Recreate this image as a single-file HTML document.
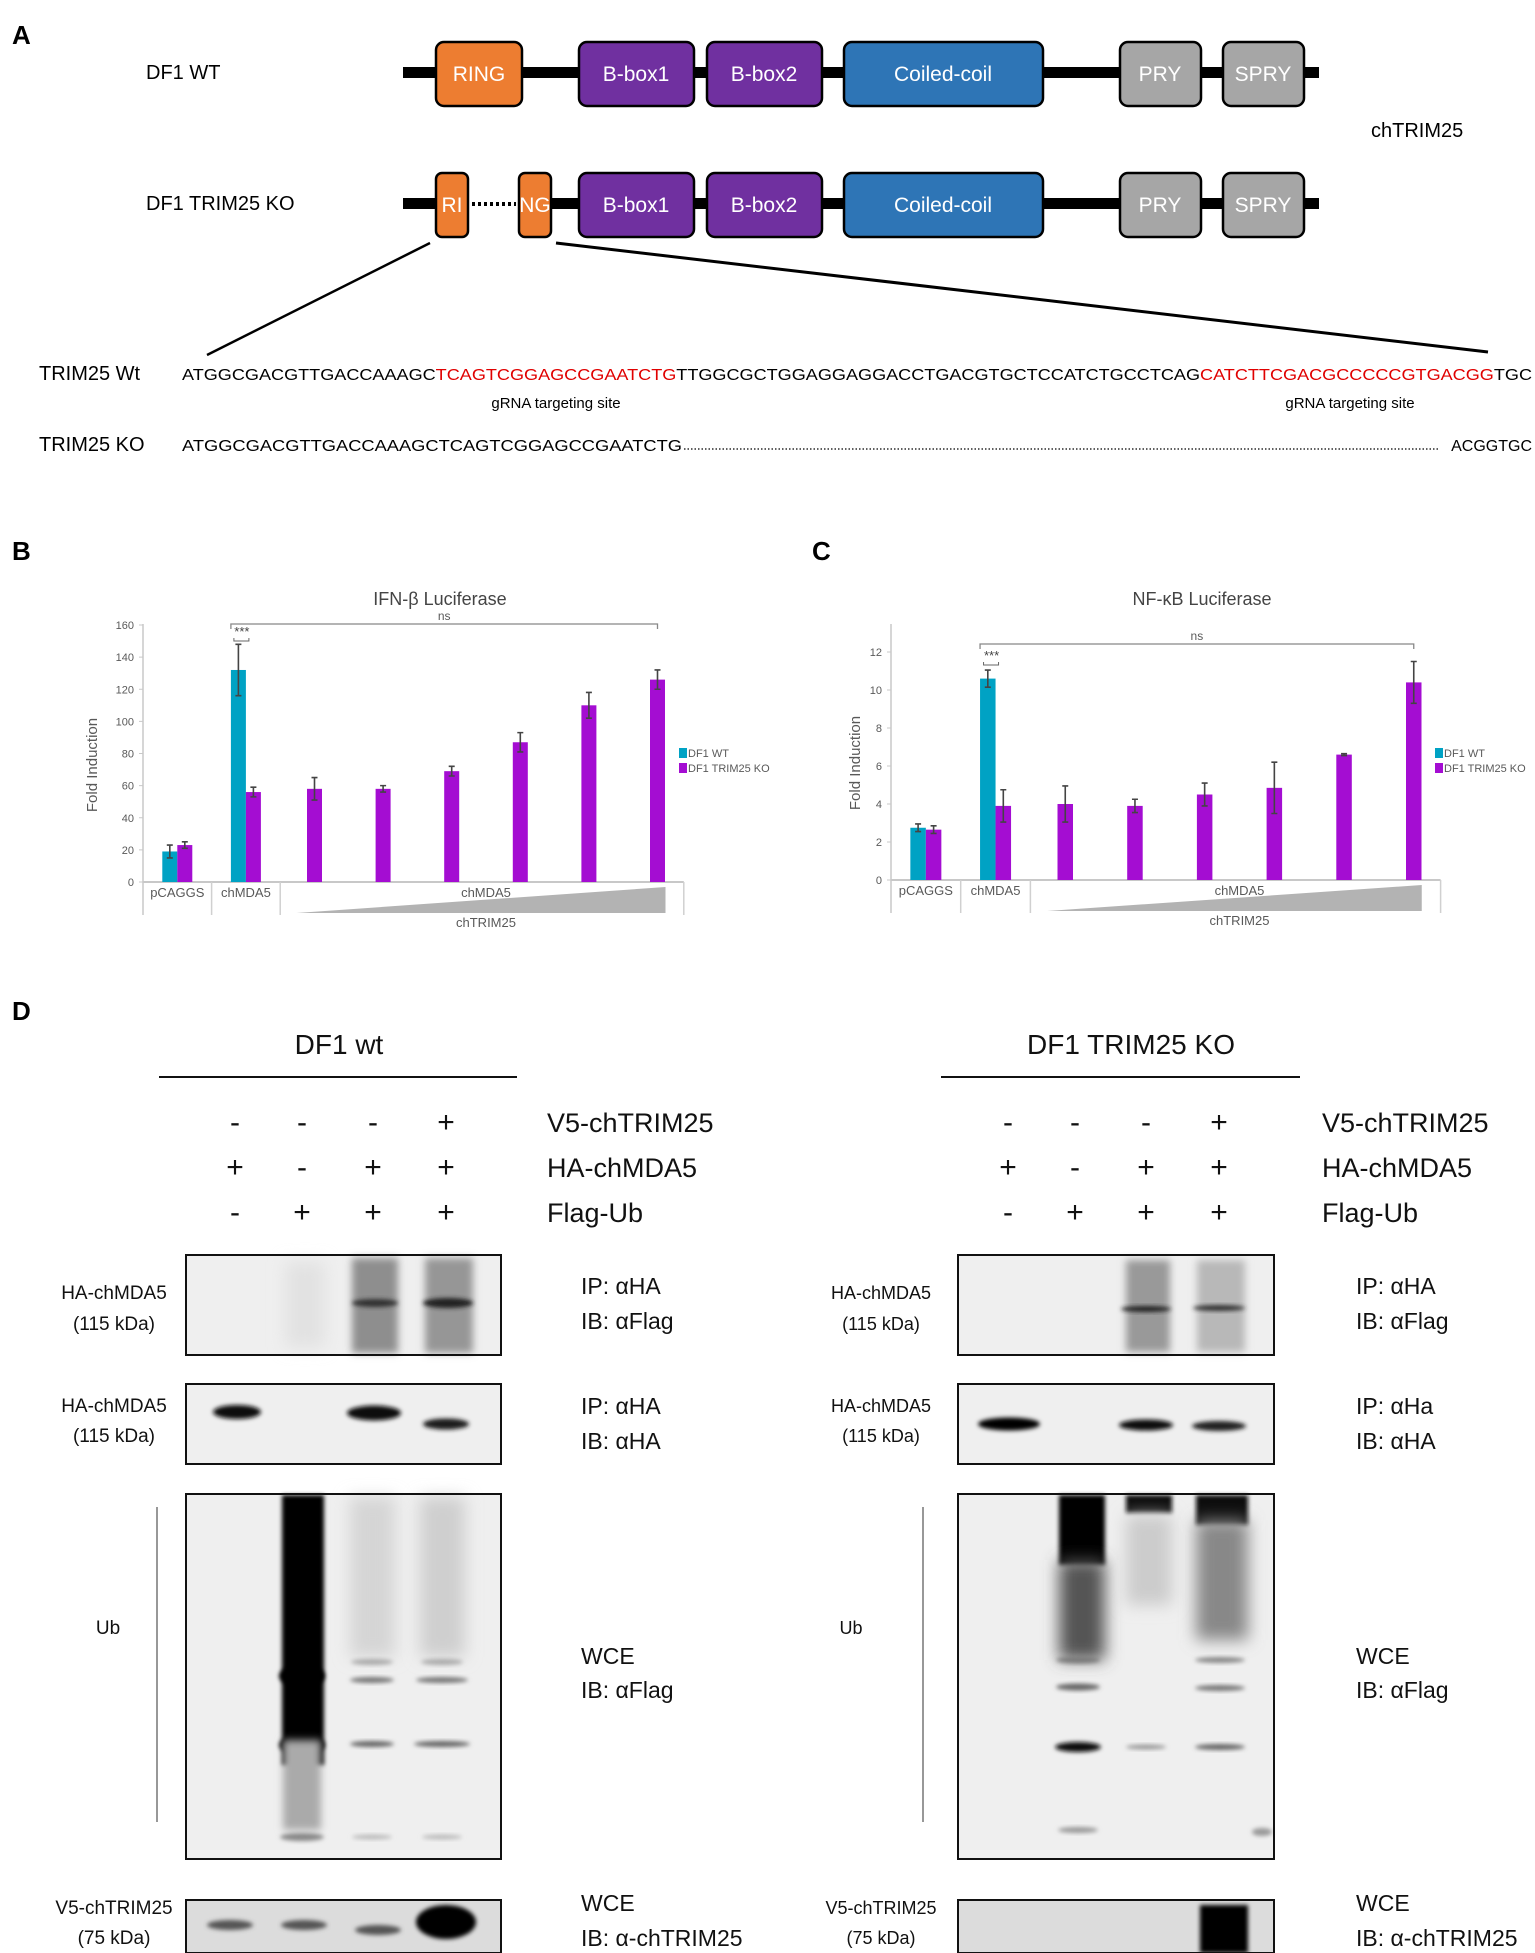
<!DOCTYPE html>
<html><head><meta charset="utf-8"><style>
html,body{margin:0;padding:0;background:#fff;}
svg{display:block;font-family:"Liberation Sans",sans-serif;}
</style></head><body>
<svg id="fig" width="1535" height="1953" viewBox="0 0 1535 1953" xmlns="http://www.w3.org/2000/svg">
<defs>
<filter id="b2" x="-50%" y="-50%" width="200%" height="200%"><feGaussianBlur stdDeviation="2"/></filter>
<filter id="b4" x="-50%" y="-50%" width="200%" height="200%"><feGaussianBlur stdDeviation="4"/></filter>
<filter id="b8" x="-50%" y="-50%" width="200%" height="200%"><feGaussianBlur stdDeviation="8"/></filter>
</defs>

<!-- PANEL A -->
<g>
<text x="12" y="44" font-size="26" font-weight="bold">A</text>
<text x="146" y="79" font-size="20">DF1 WT</text>
<rect x="403" y="67" width="916" height="11" fill="#000"/>
<g font-size="21" fill="#fff" text-anchor="middle" stroke="#000" stroke-width="2.5">
<rect x="436" y="42" width="86" height="64" rx="8" fill="#ed7d31"/>
<rect x="579" y="42" width="115" height="64" rx="8" fill="#7030a0"/>
<rect x="707" y="42" width="115" height="64" rx="8" fill="#7030a0"/>
<rect x="844" y="42" width="199" height="64" rx="8" fill="#2e75b6"/>
<rect x="1120" y="42" width="81" height="64" rx="8" fill="#a6a6a6"/>
<rect x="1223" y="42" width="81" height="64" rx="8" fill="#a6a6a6"/>
</g>
<g font-size="21" fill="#fff" text-anchor="middle">
<text x="479" y="81">RING</text>
<text x="636" y="81">B-box1</text>
<text x="764" y="81">B-box2</text>
<text x="943" y="81">Coiled-coil</text>
<text x="1160" y="81">PRY</text>
<text x="1263" y="81">SPRY</text>
</g>
<text x="1371" y="137" font-size="20">chTRIM25</text>

<text x="146" y="210" font-size="20">DF1 TRIM25 KO</text>
<rect x="403" y="198" width="33" height="11" fill="#000"/>
<rect x="551" y="198" width="768" height="11" fill="#000"/>
<line x1="472" y1="204" x2="516" y2="204" stroke="#000" stroke-width="4" stroke-dasharray="3,3"/>
<g stroke="#000" stroke-width="2.5">
<rect x="436" y="173" width="32" height="64" rx="6" fill="#ed7d31"/>
<rect x="519" y="173" width="32" height="64" rx="6" fill="#ed7d31"/>
<rect x="579" y="173" width="115" height="64" rx="8" fill="#7030a0"/>
<rect x="707" y="173" width="115" height="64" rx="8" fill="#7030a0"/>
<rect x="844" y="173" width="199" height="64" rx="8" fill="#2e75b6"/>
<rect x="1120" y="173" width="81" height="64" rx="8" fill="#a6a6a6"/>
<rect x="1223" y="173" width="81" height="64" rx="8" fill="#a6a6a6"/>
</g>
<g font-size="21" fill="#fff" text-anchor="middle">
<text x="452" y="212">RI</text><text x="535" y="212">NG</text>
<text x="636" y="212">B-box1</text><text x="764" y="212">B-box2</text>
<text x="943" y="212">Coiled-coil</text><text x="1160" y="212">PRY</text><text x="1263" y="212">SPRY</text>
</g>
<line x1="430" y1="243" x2="207" y2="355" stroke="#000" stroke-width="2.5"/>
<line x1="556" y1="243" x2="1488" y2="352" stroke="#000" stroke-width="3"/>

<text x="39" y="380" font-size="20">TRIM25 Wt</text>
<text x="182" y="380" font-size="16" textLength="1350" lengthAdjust="spacingAndGlyphs">ATGGCGACGTTGACCAAAGC<tspan fill="#e00000">TCAGTCGGAGCCGAATCTG</tspan>TTGGCGCTGGAGGAGGACCTGACGTGCTCCATCTGCCTCAG<tspan fill="#e00000">CATCTTCGACGCCCCCGTGACGG</tspan>TGC</text>
<text x="556" y="408" font-size="15" text-anchor="middle">gRNA targeting site</text>
<text x="1350" y="408" font-size="15" text-anchor="middle">gRNA targeting site</text>
<text x="39" y="451" font-size="20">TRIM25 KO</text>
<text x="182" y="451" font-size="16" textLength="500" lengthAdjust="spacingAndGlyphs">ATGGCGACGTTGACCAAAGCTCAGTCGGAGCCGAATCTG</text>
<line x1="684" y1="449" x2="1440" y2="449" stroke="#000" stroke-width="1.3" stroke-dasharray="1.5,2"/>
<text x="1532" y="451" font-size="16" text-anchor="end">ACGGTGC</text>
</g>

<!-- PANELS B & C -->
<text x="12" y="560" font-size="26" font-weight="bold">B</text>
<text x="812" y="560" font-size="26" font-weight="bold">C</text>
<g id="chartB"></g>
<g id="chartC"></g>

<!-- PANEL D -->
<g id="panelD">
<text x="12" y="1020" font-size="26" font-weight="bold">D</text>
</g>
</svg>

<script>
// ---- Chart data ----
const categoriesB = ["pCAGGS","chMDA5","t1","t2","t3","t4","t5","t6"];
const wtValuesB = [19, 132];
const wtErrorsB = [4, 16];
const koValuesB = [23, 56, 58, 58, 69, 87, 110, 126];
const koErrorsB = [2, 3, 7, 2, 3, 6, 8, 6];
const ticksB = [0, 20, 40, 60, 80, 100, 120, 140, 160];

const categoriesC = ["pCAGGS","chMDA5","t1","t2","t3","t4","t5","t6"];
const wtValuesC = [2.75, 10.6];
const wtErrorsC = [0.2, 0.45];
const koValuesC = [2.65, 3.9, 4.0, 3.9, 4.5, 4.85, 6.6, 10.4];
const koErrorsC = [0.2, 0.85, 0.95, 0.35, 0.6, 1.35, 0.05, 1.1];
const ticksC = [0, 2, 4, 6, 8, 10, 12];

const NS = "http://www.w3.org/2000/svg";
function mk(parent, tag, attrs, text){
  const e = document.createElementNS(NS, tag);
  for (const k in attrs) e.setAttribute(k, attrs[k]);
  if (text !== undefined) e.textContent = text;
  parent.appendChild(e);
  return e;
}

function drawChart(g, cfg){
  const yS = v => cfg.y0 - (v / cfg.yMax) * (cfg.y0 - cfg.yTop);
  const xC = i => cfg.left + (i + 0.5) * cfg.band;
  const bw = cfg.barW;
  const grey = "#595959";
  const t = mk(g, "text", {x: cfg.titleX, y: cfg.titleY, "font-size": 18, fill: "#444", "text-anchor": "middle"}, cfg.title);
  
  
  const ax = mk(g, "line", {x1: cfg.left, y1: cfg.axisTop, x2: cfg.left, y2: cfg.tableBottom, stroke: "#c8c8c8", "stroke-width": 1.5});
  
  
  cfg.ticks.forEach(v => {
    mk(g, "line", {x1: cfg.left - 4, y1: yS(v), x2: cfg.left, y2: yS(v), stroke: "#c8c8c8"});
    const tl = mk(g, "text", {x: cfg.left - 9, y: yS(v) + 4, "font-size": 11, fill: grey, "text-anchor": "end"}, String(v));
    
    
  });
  const yl = mk(g, "text", {x: cfg.ylabX, y: cfg.ylabY, "font-size": 15, fill: grey, "text-anchor": "middle", transform: `rotate(-90 ${cfg.ylabX} ${cfg.ylabY})`}, "Fold Induction");
  
  
  const n = cfg.cats.length;
  const right = cfg.left + n * cfg.band - 8;
  mk(g, "line", {x1: cfg.left, y1: cfg.y0, x2: right, y2: cfg.y0, stroke: "#c8c8c8", "stroke-width": 2});
  [cfg.left + cfg.band, cfg.left + 2 * cfg.band, right].forEach(x => mk(g, "line", {x1: x, y1: cfg.y0, x2: x, y2: cfg.tableBottom, stroke: "#d0d0d0", "stroke-width": 1.5}));
  const ly = cfg.y0 + 15;
  const l1 = mk(g, "text", {x: xC(0), y: ly, "font-size": 13, fill: grey, "text-anchor": "middle"}, "pCAGGS");
  
  
  const l2 = mk(g, "text", {x: xC(1), y: ly, "font-size": 13, fill: grey, "text-anchor": "middle"}, "chMDA5");
  
  
  const midX = (xC(2) + xC(n - 1)) / 2;
  const l3 = mk(g, "text", {x: midX, y: ly, "font-size": 13, fill: grey, "text-anchor": "middle"}, "chMDA5");
  
  
  const tri = mk(g, "polygon", {points: `${xC(2)-18},${cfg.y0+31} ${xC(n-1)+8},${cfg.y0+5} ${xC(n-1)+8},${cfg.y0+31}`, fill: "#b3b3b3"});
  
  
  const l4 = mk(g, "text", {x: midX, y: cfg.y0 + 45, "font-size": 13, fill: grey, "text-anchor": "middle"}, "chTRIM25");
  
  
  function err(x, v, e){
    const p = mk(g, "path", {d: `M${x},${yS(v+e)}V${yS(v-e)}M${x-3},${yS(v+e)}h6M${x-3},${yS(v-e)}h6`, stroke: "#444", "stroke-width": 1.6, fill: "none"});
    
    
  }
  cfg.ko.forEach((v, i) => {
    const hasWt = i < cfg.wt.length;
    const c = xC(i);
    if (hasWt) {
      const wv = cfg.wt[i];
      const r = mk(g, "rect", {x: c - bw, y: yS(wv), width: bw, height: cfg.y0 - yS(wv), fill: "#00a2c4"});
      
      
      err(c - bw / 2, wv, cfg.wtErr[i]);
    }
    const x = hasWt ? c : c - bw / 2;
    const r2 = mk(g, "rect", {x: x, y: yS(v), width: bw, height: cfg.y0 - yS(v), fill: "#a40dd2"});
    
    
    err(x + bw / 2, v, cfg.koErr[i]);
  });
  const bx1 = xC(1) - bw, bx2 = xC(n - 1);
  const br = mk(g, "path", {d: `M${bx1},${cfg.nsY+5}V${cfg.nsY}H${bx2}V${cfg.nsY+5}`, stroke: "#888", fill: "none", "stroke-width": 1.3});
  
  
  const ns = mk(g, "text", {x: (bx1 + bx2) / 2, y: cfg.nsY - 4, "font-size": 12, fill: grey, "text-anchor": "middle"}, "ns");
  
  
  const st = mk(g, "text", {x: xC(1) - 4, y: cfg.starY, "font-size": 13, fill: "#444", "text-anchor": "middle"}, "***");
  
  
  mk(g, "path", {d: `M${xC(1)-12},${cfg.starY+2}v3H${xC(1)+3}v-3`, stroke: "#666", fill: "none"});
  [["DF1 WT", "#00a2c4"], ["DF1 TRIM25 KO", "#a40dd2"]].forEach((d, k) => {
    const sw = mk(g, "rect", {x: cfg.legX, y: cfg.legY + k * 15 - 8, width: 8, height: 10, fill: d[1]});
    
    
    const lt = mk(g, "text", {x: cfg.legX + 9, y: cfg.legY + k * 15 + 1, "font-size": 11, fill: grey}, d[0]);
    
    
  });
}

drawChart(document.getElementById("chartB"), {
  cats: categoriesB, wt: wtValuesB, wtErr: wtErrorsB, ko: koValuesB, koErr: koErrorsB, ticks: ticksB,
  yMax: 160, y0: 882, yTop: 625, axisTop: 624, left: 143, band: 68.6, barW: 15, tableBottom: 915,
  title: "IFN-\u03B2 Luciferase", titleX: 440, titleY: 605, ylabX: 97, ylabY: 765,
  nsY: 624, starY: 636, legX: 679, legY: 756
});
drawChart(document.getElementById("chartC"), {
  cats: categoriesC, wt: wtValuesC, wtErr: wtErrorsC, ko: koValuesC, koErr: koErrorsC, ticks: ticksC,
  yMax: 12, y0: 880, yTop: 652, axisTop: 624, left: 891, band: 69.7, barW: 15.5, tableBottom: 913,
  title: "NF-\u03BAB Luciferase", titleX: 1202, titleY: 605, ylabX: 860, ylabY: 763,
  nsY: 644, starY: 660, legX: 1435, legY: 756
});

// ---- Panel D (western blots, decorative) ----
const gD = document.getElementById("panelD");
function blot(side){
  const L = side.cols;
  const g = mk(gD, "g", {});
  
  
  const ttl = mk(g, "text", {x: side.titleX, y: 1054, "font-size": 28, "text-anchor": "middle", fill: "#111"}, side.title);
  
  
  mk(g, "line", {x1: side.lineX1, y1: 1077, x2: side.lineX2, y2: 1077, stroke: "#111", "stroke-width": 2});
  const rows = [["V5-chTRIM25", 1122, ["-","-","-","+"]], ["HA-chMDA5", 1167, ["+","-","+","+"]], ["Flag-Ub", 1212, ["-","+","+","+"]]];
  rows.forEach(r => {
    r[2].forEach((s, i) => mk(g, "text", {x: L[i], y: r[1] + 10, "font-size": 30, "text-anchor": "middle", fill: "#111"}, s));
    const rl = mk(g, "text", {x: side.labX, y: r[1] + 10, "font-size": 27, fill: "#111"}, r[0]);
    
    
  });
  const bx = side.bx, bw = side.bw;
  const panels = [[1255, 100], [1384, 80], [1494, 365], [1900, 53]];
  panels.forEach((p, k) => {
    const r = mk(g, "rect", {x: bx, y: p[0], width: bw, height: p[1], fill: k === 3 ? "#dcdcdc" : "#efefef"});
    
    
  });
  side.draw(g);
  panels.forEach(p => mk(g, "rect", {x: bx, y: p[0], width: bw, height: p[1], fill: "none", stroke: "#111", "stroke-width": 2}));
  const lf = side.lf;
  [["HA-chMDA5", 1299], ["(115 kDa)", 1330], ["HA-chMDA5", 1412], ["(115 kDa)", 1442], ["V5-chTRIM25", 1914], ["(75 kDa)", 1944]].forEach(d => {
    const t = mk(g, "text", {x: side.leftLabX, y: d[1], "font-size": lf, "text-anchor": "middle", fill: "#111"}, d[0]);
    
    
  });
  mk(g, "text", {x: side.ubX, y: 1634, "font-size": lf, "text-anchor": "middle", fill: "#111"}, "Ub");
  mk(g, "line", {x1: side.ubLine, y1: 1507, x2: side.ubLine, y2: 1822, stroke: "#777", "stroke-width": 1.5});
  [["IP: \u03B1HA", 1294], ["IB: \u03B1Flag", 1329], [side.ip2, 1414], ["IB: \u03B1HA", 1449], ["WCE", 1664], ["IB: \u03B1Flag", 1698], ["WCE", 1911], ["IB: \u03B1-chTRIM25", 1946]].forEach(d => {
    const t = mk(g, "text", {x: side.rX, y: d[1], "font-size": 23, fill: "#111"}, d[0]);
    
    
  });
}
function band(g, cx, cy, w, h, color, f){
  mk(g, "ellipse", {cx: cx, cy: cy, rx: w / 2, ry: h / 2, fill: color, filter: "url(#" + (f || "b2") + ")"});
}
function smear(g, x, y, w, h, color, f){
  mk(g, "rect", {x: x, y: y, width: w, height: h, fill: color, filter: "url(#" + (f || "b4") + ")"});
}
blot({
  name: "blot-df1-wt", cols: [235, 302, 373, 446], titleX: 339, title: "DF1 wt", lineX1: 159, lineX2: 517, labX: 547,
  bx: 186, bw: 315, leftLabX: 114, lf: 19, ubX: 108, ubLine: 157, rX: 581, ip2: "IP: \u03B1HA",
  draw: function(g){
    smear(g, 285, 1262, 40, 85, "#e2e2e2", "b8");
    smear(g, 352, 1258, 46, 95, "#8e8e8e"); smear(g, 425, 1258, 48, 95, "#969696");
    band(g, 375, 1303, 46, 8, "#333"); band(g, 448, 1303, 50, 10, "#222");
    band(g, 237, 1412, 48, 14, "#111"); band(g, 374, 1413, 54, 15, "#111"); band(g, 446, 1424, 46, 11, "#1a1a1a");
    smear(g, 282, 1495, 42, 270, "#050505", "b2"); band(g, 302, 1676, 46, 22, "#000"); band(g, 302, 1745, 46, 20, "#000");
    smear(g, 283, 1740, 38, 90, "#aaa", "b4");
    smear(g, 350, 1497, 45, 160, "#d5d5d5", "b8"); smear(g, 420, 1497, 45, 160, "#cfcfcf", "b8");
    band(g, 372, 1662, 42, 6, "#aaa"); band(g, 442, 1662, 42, 6, "#aaa");
    band(g, 372, 1680, 44, 6, "#777"); band(g, 442, 1680, 52, 6, "#777");
    band(g, 372, 1744, 44, 6, "#666"); band(g, 442, 1744, 56, 6, "#666");
    band(g, 302, 1837, 44, 8, "#888"); band(g, 372, 1837, 40, 5, "#bbb"); band(g, 442, 1837, 40, 5, "#bbb");
    band(g, 230, 1925, 46, 10, "#555"); band(g, 304, 1925, 46, 10, "#555"); band(g, 378, 1930, 46, 10, "#555");
    band(g, 446, 1922, 60, 34, "#000", "b2");
  }
});
blot({
  name: "blot-df1-trim25-ko", cols: [1008, 1075, 1146, 1219], titleX: 1131, title: "DF1 TRIM25 KO", lineX1: 941, lineX2: 1300, labX: 1322,
  bx: 958, bw: 316, leftLabX: 881, lf: 18, ubX: 851, ubLine: 923, rX: 1356, ip2: "IP: \u03B1Ha",
  draw: function(g){
    smear(g, 1126, 1260, 44, 92, "#999"); smear(g, 1197, 1260, 48, 92, "#b8b8b8");
    band(g, 1146, 1309, 50, 6, "#222"); band(g, 1219, 1308, 52, 6, "#333");
    band(g, 1009, 1424, 62, 13, "#000"); band(g, 1146, 1425, 54, 11, "#111"); band(g, 1219, 1426, 54, 10, "#222");
    smear(g, 1059, 1495, 46, 70, "#000", "b2"); smear(g, 1059, 1560, 46, 100, "#555", "b8");
    smear(g, 1126, 1495, 46, 18, "#111", "b2"); smear(g, 1196, 1495, 52, 30, "#111", "b2");
    smear(g, 1196, 1520, 52, 120, "#888", "b8"); smear(g, 1126, 1515, 46, 90, "#ccc", "b8");
    band(g, 1078, 1660, 44, 6, "#777"); band(g, 1078, 1687, 44, 7, "#666"); band(g, 1220, 1660, 50, 6, "#888"); band(g, 1220, 1688, 50, 6, "#777");
    band(g, 1078, 1747, 46, 10, "#111"); band(g, 1146, 1747, 40, 5, "#999"); band(g, 1220, 1747, 50, 6, "#666");
    band(g, 1078, 1830, 40, 6, "#999"); band(g, 1262, 1832, 20, 8, "#999");
    smear(g, 1200, 1905, 48, 48, "#000", "b2");
  }
});
</script>
</body></html>
